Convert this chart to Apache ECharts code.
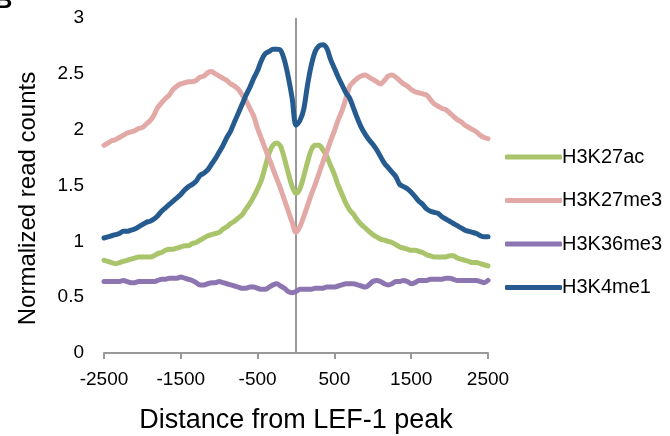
<!DOCTYPE html>
<html>
<head>
<meta charset="utf-8">
<script src="https://cdn.jsdelivr.net/npm/echarts@6/dist/echarts.min.js"></script>
<style>
  html, body { margin: 0; padding: 0; background: #fff; }
  #chart { width: 670px; height: 436px; }
</style>
</head>
<body>
<div id="chart"></div>
<script>
// distance from the peak (bp), one point every 50 bp
var distances = [
  -2500, -2450, -2400, -2350, -2300, -2250, -2200, -2150, -2100, -2050,
  -2000, -1950, -1900, -1850, -1800, -1750, -1700, -1650, -1600, -1550,
  -1500, -1450, -1400, -1350, -1300, -1250, -1200, -1150, -1100, -1050,
  -1000, -950, -900, -850, -800, -750, -700, -650, -600, -550,
  -500, -450, -400, -350, -300, -250, -200, -150, -100, -50,
  0, 50, 100, 150, 200, 250, 300, 350, 400, 450,
  500, 550, 600, 650, 700, 750, 800, 850, 900, 950,
  1000, 1050, 1100, 1150, 1200, 1250, 1300, 1350, 1400, 1450,
  1500, 1550, 1600, 1650, 1700, 1750, 1800, 1850, 1900, 1950,
  2000, 2050, 2100, 2150, 2200, 2250, 2300, 2350, 2400, 2450,
  2500
];

var seriesNames = ['H3K27ac', 'H3K27me3', 'H3K36me3', 'H3K4me1'];

var h3k27ac = [
  0.83, 0.82, 0.81, 0.80, 0.81, 0.82, 0.83, 0.84, 0.85, 0.86,
  0.86, 0.86, 0.86, 0.87, 0.89, 0.90, 0.92, 0.93, 0.93, 0.94,
  0.95, 0.96, 0.96, 0.98, 0.99, 1.01, 1.03, 1.05, 1.06, 1.07,
  1.08, 1.11, 1.13, 1.16, 1.18, 1.21, 1.24, 1.29, 1.34, 1.40,
  1.47, 1.55, 1.67, 1.79, 1.86, 1.88, 1.85, 1.74, 1.61, 1.49,
  1.43, 1.47, 1.58, 1.71, 1.82, 1.86, 1.86, 1.82, 1.76, 1.68,
  1.60, 1.50, 1.42, 1.34, 1.28, 1.24, 1.19, 1.15, 1.12, 1.09,
  1.06, 1.04, 1.02, 1.01, 1.00, 0.99, 0.97, 0.95, 0.94, 0.93,
  0.92, 0.92, 0.91, 0.90, 0.88, 0.87, 0.86, 0.86, 0.86, 0.86,
  0.87, 0.87, 0.85, 0.84, 0.83, 0.82, 0.81, 0.81, 0.80, 0.79,
  0.78
];

var h3k27me3 = [
  1.86, 1.88, 1.90, 1.91, 1.93, 1.95, 1.97, 1.98, 1.99, 2.01,
  2.02, 2.05, 2.08, 2.13, 2.20, 2.24, 2.28, 2.31, 2.36, 2.39,
  2.41, 2.42, 2.43, 2.43, 2.44, 2.47, 2.48, 2.51, 2.52, 2.50,
  2.48, 2.46, 2.44, 2.41, 2.39, 2.36, 2.31, 2.26, 2.19, 2.12,
  2.01, 1.92, 1.83, 1.74, 1.65, 1.56, 1.47, 1.37, 1.27, 1.17,
  1.08, 1.13, 1.22, 1.32, 1.42, 1.51, 1.61, 1.71, 1.80, 1.90,
  1.99, 2.09, 2.17, 2.28, 2.39, 2.43, 2.46, 2.48, 2.49, 2.47,
  2.45, 2.43, 2.41, 2.44, 2.48, 2.49, 2.47, 2.44, 2.41, 2.39,
  2.36, 2.34, 2.33, 2.32, 2.31, 2.27, 2.23, 2.21, 2.19, 2.18,
  2.15, 2.12, 2.09, 2.07, 2.04, 2.02, 2.00, 1.98, 1.95, 1.93,
  1.92
];

var h3k36me3 = [
  0.64, 0.64, 0.64, 0.64, 0.64, 0.65, 0.64, 0.63, 0.63, 0.64,
  0.64, 0.64, 0.64, 0.64, 0.65, 0.66, 0.66, 0.67, 0.67, 0.67,
  0.68, 0.67, 0.66, 0.65, 0.63, 0.61, 0.61, 0.62, 0.63, 0.63,
  0.64, 0.63, 0.62, 0.61, 0.60, 0.59, 0.58, 0.58, 0.59, 0.59,
  0.58, 0.57, 0.57, 0.59, 0.61, 0.62, 0.60, 0.58, 0.55, 0.54,
  0.55, 0.57, 0.57, 0.57, 0.57, 0.58, 0.58, 0.58, 0.59, 0.59,
  0.59, 0.60, 0.61, 0.62, 0.62, 0.62, 0.61, 0.60, 0.59, 0.61,
  0.64, 0.65, 0.64, 0.62, 0.61, 0.62, 0.64, 0.64, 0.65, 0.64,
  0.62, 0.63, 0.65, 0.65, 0.65, 0.66, 0.66, 0.66, 0.66, 0.67,
  0.67, 0.66, 0.65, 0.65, 0.65, 0.65, 0.65, 0.65, 0.64, 0.63,
  0.65
];

var h3k4me1 = [
  1.03, 1.04, 1.05, 1.06, 1.07, 1.09, 1.09, 1.10, 1.11, 1.13,
  1.15, 1.17, 1.18, 1.20, 1.23, 1.27, 1.30, 1.33, 1.36, 1.39,
  1.42, 1.46, 1.49, 1.51, 1.54, 1.59, 1.61, 1.64, 1.69, 1.74,
  1.80, 1.86, 1.93, 1.99, 2.07, 2.15, 2.23, 2.31, 2.38, 2.46,
  2.53, 2.62, 2.68, 2.70, 2.72, 2.72, 2.71, 2.62, 2.47, 2.28,
  2.04, 2.08, 2.18, 2.40, 2.58, 2.70, 2.75, 2.76, 2.73, 2.63,
  2.55, 2.47, 2.40, 2.33, 2.28, 2.19, 2.10, 2.02, 1.96, 1.91,
  1.87, 1.82, 1.76, 1.70, 1.66, 1.62, 1.58, 1.51, 1.49, 1.47,
  1.44, 1.40, 1.36, 1.33, 1.29, 1.27, 1.26, 1.25, 1.22, 1.20,
  1.18, 1.16, 1.14, 1.12, 1.10, 1.09, 1.08, 1.07, 1.05, 1.04,
  1.04
];

var seriesValues = [h3k27ac, h3k27me3, h3k36me3, h3k4me1];
var colors = ['#a9c46b', '#e3a9a6', '#8c75b0', '#265b8f'];

var chart = echarts.init(document.getElementById('chart'));

var series = [];
for (var i = 0; i < seriesNames.length; i++) {
  var s = {
    name: seriesNames[i],
    type: 'line',
    data: seriesValues[i],
    symbol: 'none',
    smooth: 0.3,
    lineStyle: { width: 5, color: colors[i], cap: 'round', join: 'round' },
    itemStyle: { color: colors[i] },
    z: 3
  };
  if (i == 0) {
    // vertical line at the peak centre
    s.markLine = {
      silent: true,
      symbol: 'none',
      label: { show: false },
      lineStyle: { color: '#999', width: 2, type: 'solid' },
      data: [{ xAxis: distances.indexOf(0) }],
      z: 1
    };
  }
  series.push(s);
}

var option = {
  animation: false,
  textStyle: { fontFamily: 'Liberation Sans, Arial, sans-serif' },
  title: {
    text: 'B',
    left: -10,
    top: -16,
    textStyle: { fontSize: 24, fontWeight: 'bold', color: '#000' }
  },
  grid: { left: 104, right: 182, top: 18, bottom: 83, outerBoundsMode: 'none' },
  legend: {
    orient: 'vertical',
    left: 500,
    top: 142,
    icon: 'roundRect',
    itemWidth: 57,
    itemHeight: 5,
    itemGap: 23.5,
    data: seriesNames,
    textStyle: { fontSize: 20, color: '#000', lineHeight: 20, padding: [0, 0, 0, -5] }
  },
  xAxis: {
    type: 'category',
    data: distances,
    boundaryGap: false,
    name: 'Distance from LEF-1 peak',
    nameLocation: 'middle',
    nameGap: 54,
    nameTextStyle: { fontSize: 27, color: '#000' },
    axisLine: { lineStyle: { color: '#999', width: 2 } },
    axisTick: { interval: 19, length: 6, lineStyle: { color: '#999', width: 2 } },
    axisLabel: { interval: 19, margin: 17, fontSize: 19, color: '#000' },
    splitLine: { show: false }
  },
  yAxis: {
    type: 'value',
    min: 0,
    max: 3,
    interval: 0.5,
    name: 'Normalized read counts',
    nameLocation: 'middle',
    nameGap: 64,
    nameTextStyle: { fontSize: 24, color: '#000', padding: [0, 26, 0, 0] },
    axisLine: { show: false },
    axisTick: { show: false },
    axisLabel: { margin: 20, fontSize: 19, color: '#000' },
    splitLine: { show: false }
  },
  series: series
};

chart.setOption(option);
</script>
</body>
</html>
